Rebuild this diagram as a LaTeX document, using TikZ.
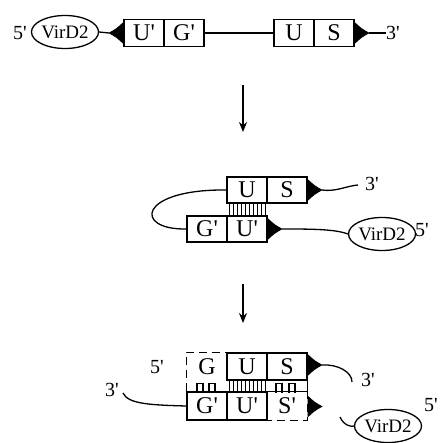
\documentclass[tikz,border=0pt]{standalone}
\usepackage{fontspec}
\setmainfont{Liberation Serif}
\usetikzlibrary{shapes.geometric,arrows.meta}
\newcommand{\pr}[1]{#1\textquotesingle}
\begin{document}
\begin{tikzpicture}[x=1pt,y=-1pt,
  cell/.style={draw, line width=1.2pt, minimum width=40pt, minimum height=27pt, inner sep=0pt, font=\fontsize{24}{24}\selectfont},
  cellnd/.style={cell, draw=none},
  vir/.style={ellipse, draw, line width=1.3pt, minimum width=58pt, minimum height=33pt, inner sep=0pt, font=\fontsize{19}{19}\selectfont},
  endlab/.style={font=\fontsize{20}{20}\selectfont, inner sep=0pt},
  strand/.style={line width=1.3pt},
  dsh/.style={line width=1.2pt, dash pattern=on 8pt off 5pt},
  pair/.style={line width=1.4pt},
  flow/.style={line width=1.3pt, -{Stealth[length=10pt,width=8pt]}},
  head/.pic={\fill (0,-11) .. controls (7,-4.5) .. (15,0) .. controls (7,4.5) .. (0,11) -- cycle;}
]
\useasboundingbox (0,0) rectangle (440,443);

% ---------- Row 1 ----------
\node[endlab] (r1five) at (20,33) {\pr{5}};
\node[vir] (v1) at (65,32) {VirD2};
\node[cell] (r1Up) at (144,33) {\pr{U}};
\node[cell] (r1Gp) at (184,33) {\pr{G}};
\node[cell] (r1U) at (294,33) {U};
\node[cell] (r1S) at (334,33) {S};
\node[endlab, anchor=west] (r1three) at (386,33) {\pr{3}};
\pic[xscale=-1] at (r1Up.west) {head};
\coordinate (r1tipL) at (109,33);
\pic at (r1S.east) {head};
\coordinate (r1tipR) at (369,33);
\draw[strand] (v1.east) -- (r1tipL);
\draw[strand] (r1Gp.east) -- (r1U.west);
\draw[strand] (r1tipR) -- (r1three.west);

% ---------- Arrow 1 ----------
\coordinate (a1s) at (243,85);
\coordinate (a1e) at (243,132);
\draw[flow] (a1s) -- (a1e);

% ---------- Row 2 ----------
\node[cell, minimum height=26pt] (r2U) at (247,190) {U};
\node[cell, minimum height=26pt] (r2S) at (287,190) {S};
\node[cell, minimum height=26pt] (r2Gp) at (207,229) {\pr{G}};
\node[cell, minimum height=26pt] (r2Up) at (247,229) {\pr{U}};
\foreach \x in {229.5,233.5,...,265.5}
  \draw[pair] (\x,203) -- (\x,216);
\draw[strand] (r2U.west) .. controls (138,189) and (133,230) .. (r2Gp.west);
\pic at (r2S.east) {head};
\coordinate (r2tipS) at (322,190);
\draw[strand] (r2tipS) .. controls (336,192) and (346,186) .. (358,185);
\node[endlab] (r2three) at (372,184) {\pr{3}};
\pic at (r2Up.east) {head};
\coordinate (r2tipU) at (282,229);
\node[vir] (v2) at (382,234) {VirD2};
\node[endlab] (r2five) at (422,230) {\pr{5}};
\draw[strand] (r2tipU) .. controls (310,229) and (335,229) .. (v2.west);

% ---------- Arrow 2 ----------
\coordinate (a2s) at (243,284);
\coordinate (a2e) at (243,323);
\draw[flow] (a2s) -- (a2e);

% ---------- Row 3 ----------
\node[cellnd] (r3G) at (207,366.5) {G};
\node[cell] (r3U) at (247,366.5) {U};
\node[cell] (r3S) at (287,366.5) {S};
\node[cell, minimum height=28pt] (r3Gp) at (207,406) {\pr{G}};
\node[cell, minimum height=28pt] (r3Up) at (247,406) {\pr{U}};
\node[cellnd, minimum height=28pt] (r3Sp) at (287,406) {\pr{S}};
% dashed G box
\draw[dsh] (r3Gp.north west) -- (r3G.north west) -- (r3G.north east);
% solid pieces around S'
\draw[line width=1.2pt] (r3S.south east) -- (r3Sp.north east);
\draw[line width=1.2pt] (r3Sp.north west) -- (r3Sp.north east);
\draw[dsh] (r3Sp.north east) -- (r3Sp.south east) -- (r3Sp.south west);
% pairing marks
\foreach \x in {229.5,233.5,...,265.5}
  \draw[pair] (\x,380) -- (\x,392.5);
\foreach \a in {197,209,276,289}
  \draw[pair] (\a,392.5) -- (\a,383.5) -- (\a+6,383.5) -- (\a+6,392.5);
% heads
\pic at ([yshift=1.5pt]r3S.east) {head};
\coordinate (r3tipS) at (322,365);
\pic at ([yshift=-0.5pt]r3Sp.east) {head};
% strands
\draw[strand] (r3tipS) .. controls (338,364) and (352,372) .. (352,382);
\node[endlab] (r3three) at (368,380) {\pr{3}};
\node[endlab] (r3five) at (157,367) {\pr{5}};
\node[endlab] (r3threeL) at (112,390) {\pr{3}};
\coordinate (r3l) at (123,393);
\draw[strand] (r3l) .. controls (128,404) and (150,405) .. (r3Gp.west);
\node[vir] (v3) at (388,426) {VirD2};
\node[endlab] (r3fiveR) at (431,405) {\pr{5}};
\coordinate (r3v) at (340,417);
\draw[strand] (r3v) .. controls (344,426) and (352,427) .. (v3.west);
\end{tikzpicture}
\end{document}
